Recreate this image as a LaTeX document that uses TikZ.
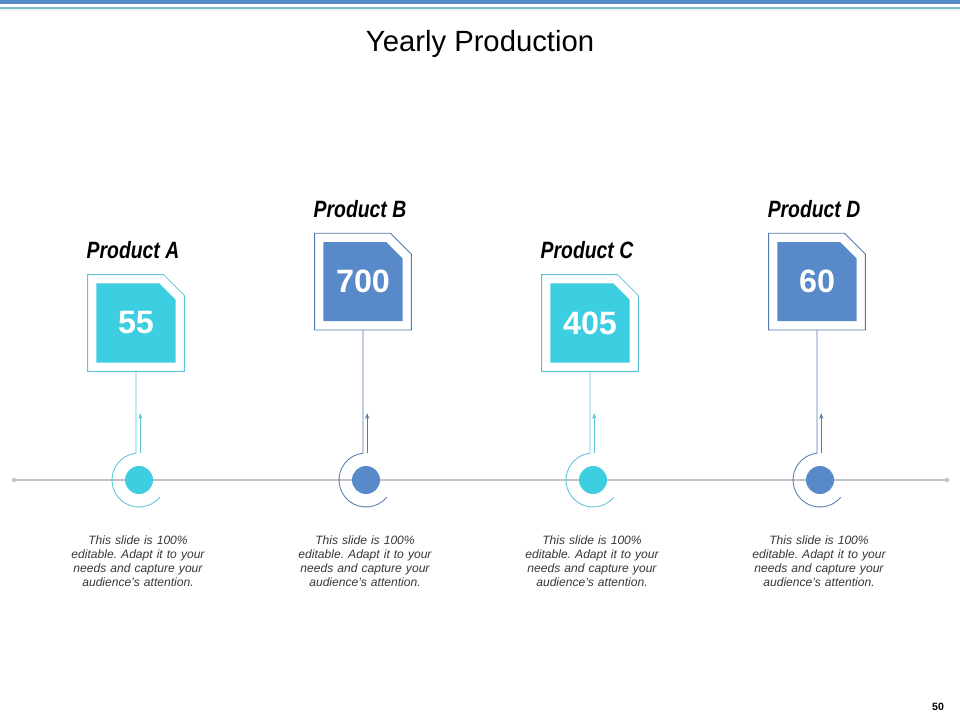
\documentclass[tikz,border=0pt]{standalone}
\usepackage{fontspec}
\setmainfont{Liberation Sans}
\newfontfamily\narrowfont[FakeStretch=0.82]{Liberation Sans}
\usetikzlibrary{shapes.misc, arrows.meta, positioning, calc}
\definecolor{barblue}{RGB}{84,138,200}
\definecolor{barteal}{RGB}{127,191,192}
\definecolor{prodcyan}{RGB}{62,206,226}
\definecolor{prodblue}{RGB}{88,137,201}
\definecolor{linecyan}{RGB}{92,196,214}
\definecolor{lineblue}{RGB}{82,122,172}
\definecolor{axisgrey}{RGB}{192,196,200}
\definecolor{notegrey}{RGB}{55,55,55}
\frenchspacing

\begin{document}
\begin{tikzpicture}[
    card/.style={chamfered rectangle, chamfered rectangle corners=north east,
                 chamfered rectangle xsep=0.4cm, fill=white, line width=0.6pt,
                 minimum width=2.42cm, minimum height=2.42cm, inner sep=0.6cm},
    value/.style={chamfered rectangle, chamfered rectangle corners=north east,
                  chamfered rectangle xsep=0.35cm, minimum width=1.98cm,
                  minimum height=1.98cm, inner sep=0pt, text=white,
                  font=\bfseries\fontsize{23}{26}\selectfont},
    prodname/.style={font=\narrowfont\bfseries\itshape\fontsize{16.8}{19}\selectfont},
    dot/.style={circle, minimum size=0.7cm, inner sep=0pt},
    stem/.style={line width=0.6pt},
    rise/.style={line width=0.6pt, -{Stealth[length=4pt, width=3pt]}},
    note/.style={font=\itshape\fontsize{8.6}{10}\selectfont, text=notegrey,
                 align=center, text width=3.8cm}]

    \useasboundingbox (0,0) rectangle (24,18);

    % Header
    \fill[barblue] (0,17.9) rectangle (24,18);
    \fill[barteal] (0,17.775) rectangle (24,17.83);
    \fill[barteal!15] (0,17.72) rectangle (24,17.775);
    \node[font=\fontsize{20.8}{24}\selectfont] (title) at (12,16.9) {Yearly Production};

    % Timeline
    \node[circle, fill=axisgrey, inner sep=0pt, minimum size=0.11cm] (start) at (0.35,6) {};
    \node[circle, fill=axisgrey, inner sep=0pt, minimum size=0.11cm] (stop) at (23.675,6) {};
    \draw[axisgrey, line width=0.8pt] (start) -- (stop);

    % Cards
    \node[card, draw=linecyan] (boxA) at (3.4,9.925) {};
    \node[value, fill=prodcyan] (valA) at (boxA) {55};
    \node[card, draw=lineblue] (boxB) at (9.075,10.96) {};
    \node[value, fill=prodblue] (valB) at (boxB) {700};
    \node[card, draw=linecyan] (boxC) at (14.75,9.925) {};
    \node[value, fill=prodcyan] (valC) at (boxC) {405};
    \node[card, draw=lineblue] (boxD) at (20.425,10.96) {};
    \node[value, fill=prodblue] (valD) at (boxD) {60};

    % Names
    \node[prodname] (nameA) at (3.325,11.75) {Product A};
    \node[prodname] (nameB) at (9.0,12.775) {Product B};
    \node[prodname] (nameC) at (14.675,11.75) {Product C};
    \node[prodname] (nameD) at (20.35,12.775) {Product D};

    % Dots
    \node[dot, fill=prodcyan] (dotA) at (3.475,6) {};
    \node[dot, fill=prodblue] (dotB) at (9.15,6) {};
    \node[dot, fill=prodcyan] (dotC) at (14.825,6) {};
    \node[dot, fill=prodblue] (dotD) at (20.5,6) {};

    % Stems
    \draw[stem, linecyan] (boxA.south) -- ($(dotA)+(96.4:0.675)$) arc[start angle=96.4, end angle=320, radius=0.675];
    \draw[stem, lineblue] (boxB.south) -- ($(dotB)+(96.4:0.675)$) arc[start angle=96.4, end angle=320, radius=0.675];
    \draw[stem, linecyan] (boxC.south) -- ($(dotC)+(96.4:0.675)$) arc[start angle=96.4, end angle=320, radius=0.675];
    \draw[stem, lineblue] (boxD.south) -- ($(dotD)+(96.4:0.675)$) arc[start angle=96.4, end angle=320, radius=0.675];
    \draw[rise, linecyan] ($(dotA)+(0.03,0.67)$) -- ++(0,1);
    \draw[rise, lineblue] ($(dotB)+(0.03,0.67)$) -- ++(0,1);
    \draw[rise, linecyan] ($(dotC)+(0.03,0.67)$) -- ++(0,1);
    \draw[rise, lineblue] ($(dotD)+(0.03,0.67)$) -- ++(0,1);

    % Notes
    \node[note] (noteA) at (3.45,3.975) {This slide is 100\%\\editable. Adapt it to your\\needs and capture your\\audience's attention.};
    \node[note] (noteB) at (9.125,3.975) {This slide is 100\%\\editable. Adapt it to your\\needs and capture your\\audience's attention.};
    \node[note] (noteC) at (14.8,3.975) {This slide is 100\%\\editable. Adapt it to your\\needs and capture your\\audience's attention.};
    \node[note] (noteD) at (20.475,3.975) {This slide is 100\%\\editable. Adapt it to your\\needs and capture your\\audience's attention.};

    \node[font=\bfseries\fontsize{7.5}{9}\selectfont] (page) at (23.45,0.325) {50};
\end{tikzpicture}
\end{document}
